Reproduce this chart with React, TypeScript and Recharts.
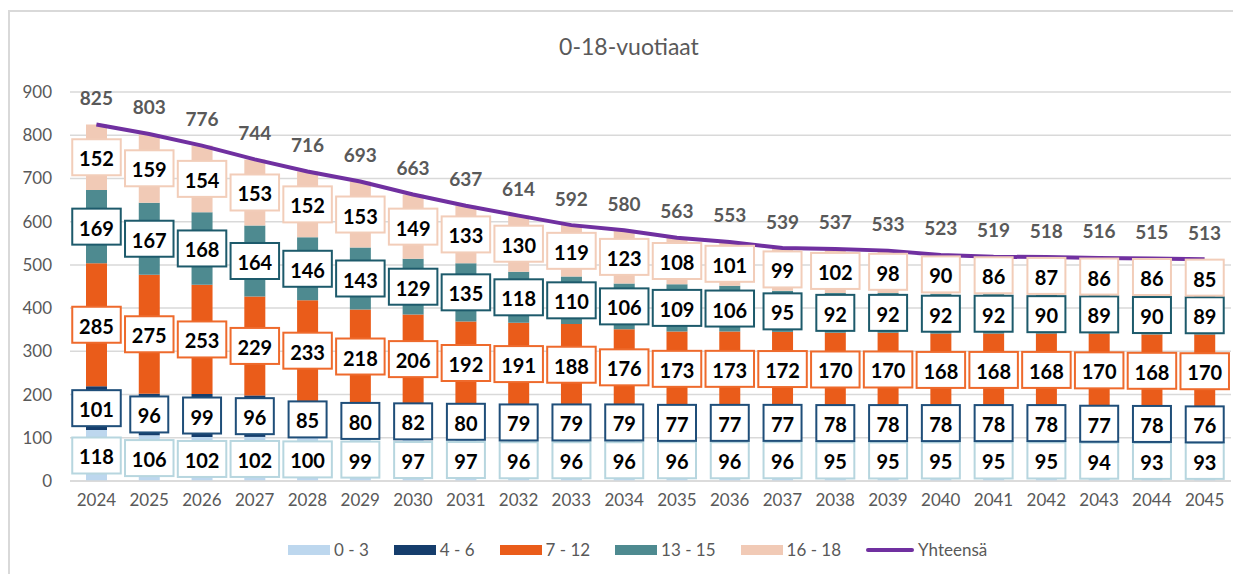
import { Bar, CartesianGrid, ComposedChart, LabelList, Line, XAxis, YAxis } from "recharts"

const years = [
  "2024", "2025", "2026", "2027", "2028", "2029", "2030", "2031", "2032", "2033", "2034",
  "2035", "2036", "2037", "2038", "2039", "2040", "2041", "2042", "2043", "2044", "2045",
]
const age0to3 = [118, 106, 102, 102, 100, 99, 97, 97, 96, 96, 96, 96, 96, 96, 95, 95, 95, 95, 95, 94, 93, 93]
const age4to6 = [101, 96, 99, 96, 85, 80, 82, 80, 79, 79, 79, 77, 77, 77, 78, 78, 78, 78, 78, 77, 78, 76]
const age7to12 = [285, 275, 253, 229, 233, 218, 206, 192, 191, 188, 176, 173, 173, 172, 170, 170, 168, 168, 168, 170, 168, 170]
const age13to15 = [169, 167, 168, 164, 146, 143, 129, 135, 118, 110, 106, 109, 106, 95, 92, 92, 92, 92, 90, 89, 90, 89]
const age16to18 = [152, 159, 154, 153, 152, 153, 149, 133, 130, 119, 123, 108, 101, 99, 102, 98, 90, 86, 87, 86, 86, 85]
const totals = [825, 803, 776, 744, 716, 693, 663, 637, 614, 592, 580, 563, 553, 539, 537, 533, 523, 519, 518, 516, 515, 513]
const yTicks = [0, 100, 200, 300, 400, 500, 600, 700, 800, 900]

const FONT = "Lato, 'Open Sans', sans-serif"
const GRAY = "#595959"

const series = [
  { key: "a0", name: "0 - 3", values: age0to3, fill: "#BDD7EE", border: "#B7D6DF" },
  { key: "a4", name: "4 - 6", values: age4to6, fill: "#153D6C", border: "#1F4E79" },
  { key: "a7", name: "7 - 12", values: age7to12, fill: "#EA5C1A", border: "#EE6A2C" },
  { key: "a13", name: "13 - 15", values: age13to15, fill: "#4E8A90", border: "#1D5A6B" },
  { key: "a16", name: "16 - 18", values: age16to18, fill: "#F1CAB6", border: "#F2CDB9" },
]

const data = years.map((year, i) => {
  const row: Record<string, string | number> = { year, total: totals[i] }
  series.forEach((s) => {
    row[s.key] = s.values[i]
  })
  return row
})

function boxLabel(border: string) {
  return (props: any) => {
    const { x, y, width, height, value } = props
    const cx = Number(x) + Number(width) / 2
    const cy = Number(y) + Number(height) / 2
    const text = String(value)
    const w = text.length * 10.5 + 17
    const h = 36
    return (
      <g>
        <rect x={cx - w / 2} y={cy - h / 2} width={w} height={h} fill="#fff" stroke={border} strokeWidth={2} />
        <text
          x={cx}
          y={cy + 1}
          textAnchor="middle"
          dominantBaseline="central"
          fontFamily={FONT}
          fontWeight={700}
          fontSize={20}
          fill="#000"
        >
          {text}
        </text>
      </g>
    )
  }
}

function totalLabel(props: any) {
  const { x, y, value } = props
  return (
    <text
      x={x}
      y={Number(y) - 27}
      textAnchor="middle"
      dominantBaseline="central"
      fontFamily={FONT}
      fontWeight={700}
      fontSize={19}
      fill={GRAY}
    >
      {value}
    </text>
  )
}

function LegendRow() {
  const items = [
    ...series.map((s) => ({ name: s.name, color: s.fill, line: false })),
    { name: "Yhteensä", color: "#7030A0", line: true },
  ]
  return (
    <div
      style={{
        position: "absolute",
        left: 288,
        top: 539,
        display: "flex",
        alignItems: "center",
        gap: 25,
        fontFamily: FONT,
        fontSize: 17,
        color: GRAY,
      }}
    >
      {items.map((it) => (
        <span key={it.name} style={{ display: "flex", alignItems: "center", gap: 4 }}>
          <span
            style={{
              display: "inline-block",
              width: it.line ? 48 : 42,
              height: it.line ? 4 : 10,
              borderRadius: it.line ? 2 : 0,
              background: it.color,
            }}
          />
          <span>{it.name}</span>
        </span>
      ))}
    </div>
  )
}

export default function App() {
  return (
    <div style={{ position: "absolute", left: 0, top: 0, width: 1241, height: 574, background: "#fff" }}>
      <div
        style={{
          position: "absolute",
          left: 8,
          top: 10,
          width: 1223,
          height: 570,
          borderTop: "2px solid #d9d9d9",
          borderLeft: "2px solid #d9d9d9",
        }}
      />
      <div
        style={{
          position: "absolute",
          left: 0,
          width: 1258,
          top: 32,
          textAlign: "center",
          fontFamily: FONT,
          fontSize: 23,
          color: GRAY,
        }}
      >
        0-18-vuotiaat
      </div>
      <div style={{ position: "absolute", left: 0, top: 0 }}>
        <ComposedChart
          width={1241}
          height={574}
          data={data}
          margin={{ top: 92, right: 10, bottom: 63, left: 0 }}
          barSize={21}
        >
          <CartesianGrid vertical={false} stroke="#d9d9d9" strokeWidth={1.5} />
          <XAxis
            dataKey="year"
            height={30}
            axisLine={{ stroke: "#d9d9d9", strokeWidth: 1.5 }}
            tickLine={false}
            tickSize={0}
            tickMargin={13}
            tick={{ fill: GRAY, fontSize: 17, fontFamily: FONT }}
          />
          <YAxis
            width={70}
            domain={[0, 900]}
            ticks={yTicks}
            axisLine={false}
            tickLine={false}
            tickSize={0}
            tickMargin={18}
            tick={{ fill: GRAY, fontSize: 17, fontFamily: FONT }}
          />
          {series.map((s) => (
            <Bar key={s.key} dataKey={s.key} name={s.name} stackId="a" fill={s.fill} isAnimationActive={false}>
              <LabelList dataKey={s.key} content={boxLabel(s.border)} />
            </Bar>
          ))}
          <Line
            dataKey="total"
            name="Yhteensä"
            stroke="#7030A0"
            strokeWidth={4}
            dot={false}
            activeDot={false}
            isAnimationActive={false}
          >
            <LabelList dataKey="total" content={totalLabel} />
          </Line>
        </ComposedChart>
      </div>
      <LegendRow />
    </div>
  )
}
